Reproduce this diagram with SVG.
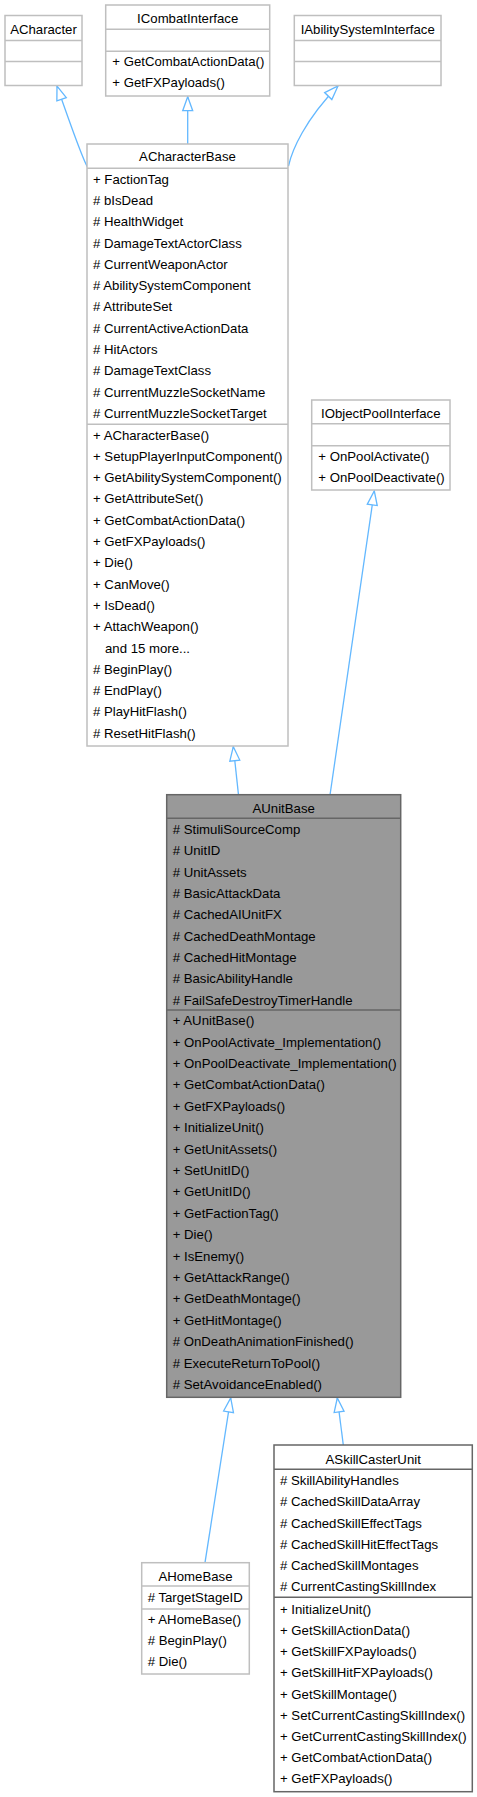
<svg xmlns="http://www.w3.org/2000/svg" width="477" height="1797" viewBox="0 0 477 1797">
<style>
text{font-family:"Liberation Sans",Arial,sans-serif;font-size:13.2px;fill:#000}
.t{text-anchor:middle}
.box{fill:#fff;stroke:#bfbfbf;stroke-width:1.5}
.doc{fill:#fff;stroke:#666;stroke-width:1.5}
.main{fill:#999;stroke:#666;stroke-width:1.5}
.sep{stroke:#bfbfbf;stroke-width:1.5}
.sepd{stroke:#666;stroke-width:1.5}
.edge{fill:none;stroke:#63b8ff;stroke-width:1.3;marker-end:url(#inh)}
</style>
<defs>
<marker id="inh" markerUnits="userSpaceOnUse" viewBox="-1 -1 16 12" refX="14" refY="5" markerWidth="16" markerHeight="12" orient="auto" overflow="visible">
<path d="M0,0 L14,5 L0,10 Z" fill="#fff" stroke="#63b8ff" stroke-width="1.3"/>
</marker>
</defs>
<g id="connectors">
<path class="edge" d="M87.5,167 Q82,158 57,86"/>
<path class="edge" d="M187.7,144 L187.7,96.7"/>
<path class="edge" d="M288.5,166 C292,150 305,120 338,86"/>
<path class="edge" d="M238.5,795 L233.3,746.7"/>
<path class="edge" d="M330,795 L374.3,491"/>
<path class="edge" d="M205,1562.7 L230.7,1398"/>
<path class="edge" d="M343.3,1445 L337.3,1398"/>
</g>
<g id="ACharacter">
<rect class="box" x="5" y="15.5" width="77" height="70"/>
<line class="sep" x1="5" y1="40.5" x2="82" y2="40.5"/>
<line class="sep" x1="5" y1="61.5" x2="82" y2="61.5"/>
<text class="t" x="43.5" y="33.8">ACharacter</text>
</g>
<g id="ICombatInterface">
<rect class="box" x="105.7" y="5" width="164" height="91"/>
<line class="sep" x1="105.7" y1="29.3" x2="269.7" y2="29.3"/>
<line class="sep" x1="105.7" y1="51.3" x2="269.7" y2="51.3"/>
<text class="t" x="187.7" y="22.8">ICombatInterface</text>
<text x="112.3" y="66.2">+ GetCombatActionData()</text>
<text x="112.3" y="86.5">+ GetFXPayloads()</text>
</g>
<g id="IAbilitySystemInterface">
<rect class="box" x="294.3" y="15.5" width="146.7" height="70"/>
<line class="sep" x1="294.3" y1="40.5" x2="441" y2="40.5"/>
<line class="sep" x1="294.3" y1="61.5" x2="441" y2="61.5"/>
<text class="t" x="367.7" y="33.8">IAbilitySystemInterface</text>
</g>
<g id="ACharacterBase">
<rect class="box" x="87" y="144" width="201" height="602"/>
<line class="sep" x1="87" y1="168.3" x2="288" y2="168.3"/>
<line class="sep" x1="87" y1="424.3" x2="288" y2="424.3"/>
<text class="t" x="187.5" y="161.2">ACharacterBase</text>
<text x="93" y="183.8">+ FactionTag</text>
<text x="93" y="205.1"># bIsDead</text>
<text x="93" y="226.3"># HealthWidget</text>
<text x="93" y="247.6"># DamageTextActorClass</text>
<text x="93" y="268.9"># CurrentWeaponActor</text>
<text x="93" y="290.2"># AbilitySystemComponent</text>
<text x="93" y="311.4"># AttributeSet</text>
<text x="93" y="332.7"># CurrentActiveActionData</text>
<text x="93" y="354.0"># HitActors</text>
<text x="93" y="375.2"># DamageTextClass</text>
<text x="93" y="396.5"># CurrentMuzzleSocketName</text>
<text x="93" y="417.8"># CurrentMuzzleSocketTarget</text>
<text x="93" y="439.5">+ ACharacterBase()</text>
<text x="93" y="460.8">+ SetupPlayerInputComponent()</text>
<text x="93" y="482.1">+ GetAbilitySystemComponent()</text>
<text x="93" y="503.4">+ GetAttributeSet()</text>
<text x="93" y="524.7">+ GetCombatActionData()</text>
<text x="93" y="546.0">+ GetFXPayloads()</text>
<text x="93" y="567.3">+ Die()</text>
<text x="93" y="588.6">+ CanMove()</text>
<text x="93" y="609.9">+ IsDead()</text>
<text x="93" y="631.2">+ AttachWeapon()</text>
<text x="105" y="652.5">and 15 more...</text>
<text x="93" y="673.8"># BeginPlay()</text>
<text x="93" y="695.1"># EndPlay()</text>
<text x="93" y="716.4"># PlayHitFlash()</text>
<text x="93" y="737.7"># ResetHitFlash()</text>
</g>
<g id="IObjectPoolInterface">
<rect class="box" x="311.7" y="400" width="138.3" height="90"/>
<line class="sep" x1="311.7" y1="423.7" x2="450" y2="423.7"/>
<line class="sep" x1="311.7" y1="445.7" x2="450" y2="445.7"/>
<text class="t" x="380.8" y="417.8">IObjectPoolInterface</text>
<text x="318.3" y="461.2">+ OnPoolActivate()</text>
<text x="318.3" y="481.8">+ OnPoolDeactivate()</text>
</g>
<g id="AUnitBase">
<rect class="main" x="166.7" y="794.7" width="234" height="602.6"/>
<line class="sepd" x1="166.7" y1="818.3" x2="400.7" y2="818.3"/>
<line class="sepd" x1="166.7" y1="1010" x2="400.7" y2="1010"/>
<text class="t" x="283.7" y="812.8">AUnitBase</text>
<text x="172.7" y="833.8"># StimuliSourceComp</text>
<text x="172.7" y="855.1"># UnitID</text>
<text x="172.7" y="876.5"># UnitAssets</text>
<text x="172.7" y="897.8"># BasicAttackData</text>
<text x="172.7" y="919.1"># CachedAIUnitFX</text>
<text x="172.7" y="940.5"># CachedDeathMontage</text>
<text x="172.7" y="961.8"># CachedHitMontage</text>
<text x="172.7" y="983.1"># BasicAbilityHandle</text>
<text x="172.7" y="1004.5"># FailSafeDestroyTimerHandle</text>
<text x="172.7" y="1025.2">+ AUnitBase()</text>
<text x="172.7" y="1046.6">+ OnPoolActivate_Implementation()</text>
<text x="172.7" y="1068.0">+ OnPoolDeactivate_Implementation()</text>
<text x="172.7" y="1089.4">+ GetCombatActionData()</text>
<text x="172.7" y="1110.8">+ GetFXPayloads()</text>
<text x="172.7" y="1132.1">+ InitializeUnit()</text>
<text x="172.7" y="1153.5">+ GetUnitAssets()</text>
<text x="172.7" y="1174.9">+ SetUnitID()</text>
<text x="172.7" y="1196.3">+ GetUnitID()</text>
<text x="172.7" y="1217.7">+ GetFactionTag()</text>
<text x="172.7" y="1239.1">+ Die()</text>
<text x="172.7" y="1260.5">+ IsEnemy()</text>
<text x="172.7" y="1281.9">+ GetAttackRange()</text>
<text x="172.7" y="1303.3">+ GetDeathMontage()</text>
<text x="172.7" y="1324.7">+ GetHitMontage()</text>
<text x="172.7" y="1346.1"># OnDeathAnimationFinished()</text>
<text x="172.7" y="1367.5"># ExecuteReturnToPool()</text>
<text x="172.7" y="1388.8"># SetAvoidanceEnabled()</text>
</g>
<g id="AHomeBase">
<rect class="box" x="141.7" y="1562.7" width="107.6" height="111.3"/>
<line class="sep" x1="141.7" y1="1586" x2="249.3" y2="1586"/>
<line class="sep" x1="141.7" y1="1609" x2="249.3" y2="1609"/>
<text class="t" x="195.5" y="1580.5">AHomeBase</text>
<text x="147.7" y="1602.2"># TargetStageID</text>
<text x="147.7" y="1623.5">+ AHomeBase()</text>
<text x="147.7" y="1645.2"># BeginPlay()</text>
<text x="147.7" y="1665.5"># Die()</text>
</g>
<g id="ASkillCasterUnit">
<rect class="doc" x="274" y="1445" width="198.3" height="346.7"/>
<line class="sepd" x1="274" y1="1469.3" x2="472.3" y2="1469.3"/>
<line class="sepd" x1="274" y1="1597.3" x2="472.3" y2="1597.3"/>
<text class="t" x="373.2" y="1463.5">ASkillCasterUnit</text>
<text x="280" y="1485.2"># SkillAbilityHandles</text>
<text x="280" y="1506.4"># CachedSkillDataArray</text>
<text x="280" y="1527.6"># CachedSkillEffectTags</text>
<text x="280" y="1548.8"># CachedSkillHitEffectTags</text>
<text x="280" y="1570.0"># CachedSkillMontages</text>
<text x="280" y="1591.2"># CurrentCastingSkillIndex</text>
<text x="280" y="1613.8">+ InitializeUnit()</text>
<text x="280" y="1635.0">+ GetSkillActionData()</text>
<text x="280" y="1656.2">+ GetSkillFXPayloads()</text>
<text x="280" y="1677.4">+ GetSkillHitFXPayloads()</text>
<text x="280" y="1698.6">+ GetSkillMontage()</text>
<text x="280" y="1719.8">+ SetCurrentCastingSkillIndex()</text>
<text x="280" y="1741.0">+ GetCurrentCastingSkillIndex()</text>
<text x="280" y="1762.2">+ GetCombatActionData()</text>
<text x="280" y="1783.4">+ GetFXPayloads()</text>
</g>
</svg>
